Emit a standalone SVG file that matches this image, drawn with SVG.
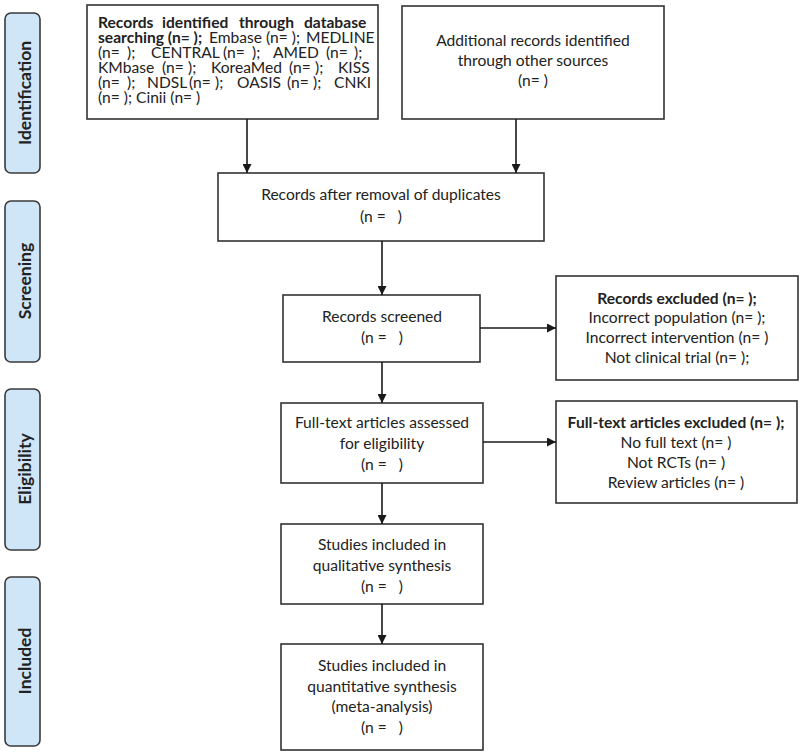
<svg xmlns="http://www.w3.org/2000/svg" width="800" height="755" viewBox="0 0 800 755">
<defs>
<marker id="ah" markerUnits="userSpaceOnUse" markerWidth="9" markerHeight="9" refX="9" refY="4.5" orient="auto">
<path d="M0,0 L9,4.5 L0,9 z" fill="#1a1a1a"/>
</marker>
</defs>
<style>
text{font-family:Lato,"Open Sans","Liberation Sans",sans-serif;font-size:15.6px;fill:#222}
.c{text-anchor:middle}
.b{font-weight:bold}
.box{fill:#fff;stroke:#333;stroke-width:1.6}
.side rect{fill:#cfe5f8;stroke:#3a3a3a;stroke-width:1.6}
.side text{font-weight:bold;text-anchor:middle;font-size:17.5px}
.conn line{stroke:#1a1a1a;stroke-width:1.6;marker-end:url(#ah)}
</style>
<rect width="800" height="755" fill="#fff"/>

<g id="stage-identification" class="side">
<rect x="5" y="13" width="35" height="160" rx="6"/>
<text transform="translate(31,93) rotate(-90)">Identification</text>
</g>
<g id="stage-screening" class="side">
<rect x="5" y="201" width="35" height="161" rx="6"/>
<text transform="translate(31,281) rotate(-90)">Screening</text>
</g>
<g id="stage-eligibility" class="side">
<rect x="5" y="389" width="35" height="161" rx="6"/>
<text transform="translate(31,469) rotate(-90)">Eligibility</text>
</g>
<g id="stage-included" class="side">
<rect x="5" y="577" width="35" height="169" rx="6"/>
<text transform="translate(31,661) rotate(-90)">Included</text>
</g>

<g id="db-search">
<rect class="box" x="87" y="5" width="291" height="114"/>
<text class="b" y="28"><tspan x="98">Records</tspan><tspan x="162">identified</tspan><tspan x="239">through</tspan><tspan x="304">database</tspan></text>
<text y="43"><tspan x="98" class="b">searching (n= );</tspan><tspan x="209">Embase (n= );</tspan><tspan x="306">MEDLINE</tspan></text>
<text y="58"><tspan x="98">(n=</tspan><tspan x="127">);</tspan><tspan x="151">CENTRAL</tspan><tspan x="223">(n=</tspan><tspan x="252">);</tspan><tspan x="273">AMED</tspan><tspan x="326">(n=</tspan><tspan x="354">);</tspan></text>
<text y="73"><tspan x="98">KMbase</tspan><tspan x="162">(n=</tspan><tspan x="188">);</tspan><tspan x="211">KoreaMed</tspan><tspan x="289">(n=</tspan><tspan x="315">);</tspan><tspan x="338">KISS</tspan></text>
<text y="88"><tspan x="98">(n=</tspan><tspan x="127">);</tspan><tspan x="147">NDSL</tspan><tspan x="189">(n=</tspan><tspan x="215">);</tspan><tspan x="237">OASIS</tspan><tspan x="287">(n=</tspan><tspan x="313">);</tspan><tspan x="334">CNKI</tspan></text>
<text x="98" y="103">(n= ); Cinii (n= )</text>
</g>

<g id="other-sources">
<rect class="box" x="402" y="6" width="262" height="113"/>
<text class="c" x="533" y="46">Additional records identified</text>
<text class="c" x="533" y="66">through other sources</text>
<text class="c" x="533" y="86">(n= )</text>
</g>

<g id="after-duplicates">
<rect class="box" x="218" y="173" width="326" height="68"/>
<text class="c" x="381" y="200">Records after removal of duplicates</text>
<text class="c" x="381" y="222" xml:space="preserve">(n =   )</text>
</g>

<g id="screened">
<rect class="box" x="283" y="295" width="197" height="67"/>
<text class="c" x="382" y="322">Records screened</text>
<text class="c" x="382" y="343" xml:space="preserve">(n =   )</text>
</g>

<g id="records-excluded">
<rect class="box" x="556" y="276" width="242" height="104"/>
<text class="c b" x="677" y="304">Records excluded (n= );</text>
<text class="c" x="677" y="323">Incorrect population (n= );</text>
<text class="c" x="677" y="343">Incorrect intervention (n= )</text>
<text class="c" x="677" y="363">Not clinical trial (n= );</text>
</g>

<g id="fulltext-assessed">
<rect class="box" x="281" y="403" width="202" height="80"/>
<text class="c" x="382" y="428">Full-text articles assessed</text>
<text class="c" x="382" y="449">for eligibility</text>
<text class="c" x="382" y="470" xml:space="preserve">(n =   )</text>
</g>

<g id="fulltext-excluded">
<rect class="box" x="556" y="401" width="241" height="102"/>
<text class="c b" x="676" y="428">Full-text articles excluded (n= );</text>
<text class="c" x="676" y="448">No full text (n= )</text>
<text class="c" x="676" y="468">Not RCTs (n= )</text>
<text class="c" x="676" y="488">Review articles (n= )</text>
</g>

<g id="qualitative">
<rect class="box" x="281" y="524" width="202" height="80"/>
<text class="c" x="382" y="550">Studies included in</text>
<text class="c" x="382" y="571">qualitative synthesis</text>
<text class="c" x="382" y="592" xml:space="preserve">(n =   )</text>
</g>

<g id="quantitative">
<rect class="box" x="281" y="644" width="202" height="106"/>
<text class="c" x="382" y="671">Studies included in</text>
<text class="c" x="382" y="692">quantitative synthesis</text>
<text class="c" x="382" y="712">(meta-analysis)</text>
<text class="c" x="382" y="733" xml:space="preserve">(n =   )</text>
</g>

<g id="connectors" class="conn">
<line x1="247" y1="119" x2="247" y2="173"/>
<line x1="516" y1="119" x2="516" y2="173"/>
<line x1="382" y1="241" x2="382" y2="295"/>
<line x1="480" y1="328" x2="556" y2="328"/>
<line x1="382" y1="362" x2="382" y2="403"/>
<line x1="483" y1="442" x2="556" y2="442"/>
<line x1="382" y1="483" x2="382" y2="524"/>
<line x1="382" y1="604" x2="382" y2="644"/>
</g>
</svg>
